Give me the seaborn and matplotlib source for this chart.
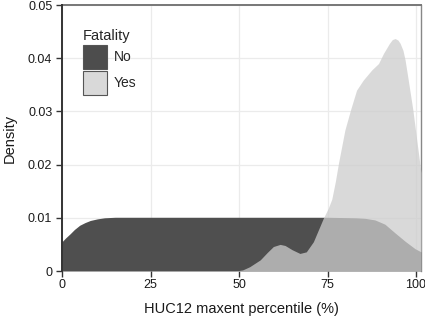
import matplotlib
matplotlib.use("Agg")
import matplotlib.pyplot as plt
from matplotlib.patches import Patch
import seaborn as sns
import pandas as pd

# ---- data ----
groups = ["No", "Yes"]
no_x = [0, 1, 2.3, 3.5, 5, 6.5, 8, 10, 12, 15, 25, 50, 75, 83, 85.6, 88.4,
        91.2, 94, 96.9, 99.7, 101.4]
no_y = [0.0055, 0.0062, 0.0070, 0.0078, 0.0086, 0.0091, 0.0095, 0.0098,
        0.0100, 0.0101, 0.0101, 0.0101, 0.0101, 0.0100, 0.0099, 0.0096,
        0.0088, 0.0072, 0.0056, 0.0042, 0.0036]
yes_x = [49, 51, 53, 56, 58, 59.7, 61.6, 63, 65, 67.2, 69, 71, 72.4, 73.8,
         75.2, 76.2, 77.2, 78.1, 79.9, 81.5, 83.2, 85.1, 87.5, 89.4, 90.8,
         92.5, 93.3, 94.1, 94.9, 95.5, 96.3, 96.9, 97.8, 99.1, 100.2, 101.4]
yes_y = [0.0, 0.0002, 0.0008, 0.0021, 0.0035, 0.0046, 0.0050, 0.0048, 0.0040,
         0.0033, 0.0036, 0.0055, 0.0077, 0.0099, 0.0118, 0.0135, 0.0168,
         0.0203, 0.0265, 0.0303, 0.0340, 0.0359, 0.0378, 0.0390, 0.0409,
         0.0428, 0.0435, 0.0437, 0.0434, 0.0428, 0.0415, 0.0397, 0.0359,
         0.0303, 0.0246, 0.0185]
x_ticks = [0, 25, 50, 75, 100]
x_tick_labels = ["0", "25", "50", "75", "100"]
y_ticks = [0, 0.01, 0.02, 0.03, 0.04, 0.05]
y_tick_labels = ["0", "0.01", "0.02", "0.03", "0.04", "0.05"]

df = pd.concat([
    pd.DataFrame({"x": no_x, "density": no_y, "Fatality": "No"}),
    pd.DataFrame({"x": yes_x, "density": yes_y, "Fatality": "Yes"}),
], ignore_index=True)

sns.set_theme(style="whitegrid")
plt.rcParams["font.family"] = ["Liberation Sans", "DejaVu Sans"]

fill_colors = {"No": "#4f4f4f", "Yes": "#cdcdcd"}
fill_alpha = {"No": 1.0, "Yes": 0.75}

fig = plt.figure(figsize=(4.25, 3.17), dpi=100)
ax = fig.add_axes([62 / 425, 1 - 271 / 317, (421 - 62) / 425, (271 - 5) / 317])

# outlines through seaborn (invisible), fills via the same axes
sns.lineplot(data=df, x="x", y="density", hue="Fatality",
             palette=fill_colors, ax=ax, legend=False, linewidth=0,
             estimator=None, sort=True)
for g in groups:
    sub = df[df["Fatality"] == g]
    ax.fill_between(sub["x"], 0, sub["density"], color=fill_colors[g],
                    alpha=fill_alpha[g], linewidth=0, zorder=2)

ax.set_xlim(0, 101.4)
ax.set_ylim(0, 0.05)
ax.set_xticks(x_ticks)
ax.set_xticklabels(x_tick_labels)
ax.set_yticks(y_ticks)
ax.set_yticklabels(y_tick_labels)

ax.grid(True, color="#ebebeb", linewidth=0.9, zorder=0)
ax.set_axisbelow(True)
ax.set_facecolor("white")

ax.spines["bottom"].set_visible(False)
ax.spines["left"].set_color("#333333")
ax.spines["left"].set_linewidth(1.4)
ax.spines["left"].set_zorder(3)
ax.spines["top"].set_color("#777777")
ax.spines["top"].set_linewidth(1.4)
ax.spines["right"].set_color("#888888")
ax.spines["right"].set_linewidth(1.0)
ax.spines["right"].set_zorder(1)

ax.tick_params(axis="both", which="major", direction="out", length=4,
               width=1.0, color="#333333", labelsize=9, labelcolor="#1a1a1a",
               pad=2, bottom=True, left=True)
ax.tick_params(axis="y", pad=3)

ax.set_xlabel("HUC12 maxent percentile (%)", fontsize=10.5, color="#1a1a1a",
              labelpad=8)
ax.set_ylabel("Density", fontsize=10.5, color="#1a1a1a", labelpad=8)

handles = [Patch(facecolor="#4d4d4d", edgecolor="#555555", linewidth=0.8, label="No"),
           Patch(facecolor="#d9d9d9", edgecolor="#555555", linewidth=0.8, label="Yes")]
leg = ax.legend(handles=handles, title="Fatality", loc="upper left",
                bbox_to_anchor=((83 - 62) / 359, (271 - 29) / 266),
                frameon=False, borderpad=0, borderaxespad=0, fontsize=10,
                title_fontsize=10.5, handlelength=1.75, handleheight=2.28,
                labelspacing=0.15, handletextpad=0.45, alignment="left")

fig.savefig("out.png", dpi=100)
